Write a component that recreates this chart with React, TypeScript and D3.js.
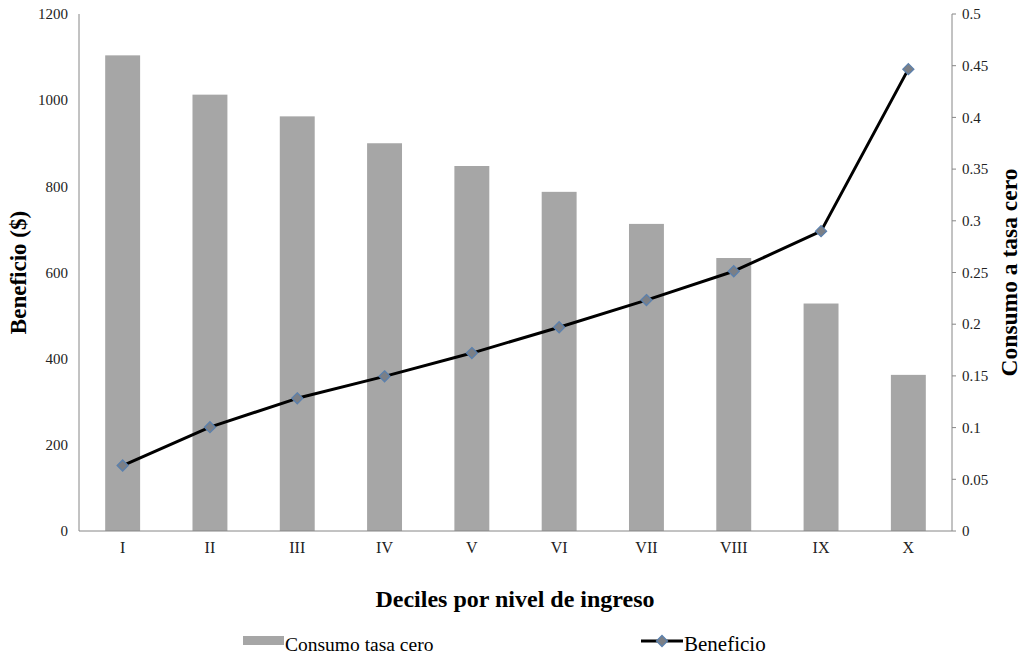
import React from 'react';
import * as d3 from 'd3';

const deciles = ['I', 'II', 'III', 'IV', 'V', 'VI', 'VII', 'VIII', 'IX', 'X'];
const consumoTasaCero = [0.46, 0.422, 0.401, 0.375, 0.353, 0.328, 0.297, 0.264, 0.22, 0.151];
const beneficio = [152, 241, 308, 359, 413, 473, 536, 603, 696, 1072];
const leftTicks = [0, 200, 400, 600, 800, 1000, 1200];
const rightTicks = [0, 0.05, 0.1, 0.15, 0.2, 0.25, 0.3, 0.35, 0.4, 0.45, 0.5];

const W = 1026;
const H = 655;
const margin = { top: 14, right: 74, bottom: 124, left: 79 };
const font = '"Liberation Serif", "DejaVu Serif", serif';
const axisColor = '#868686';

const App = () => {
  const x0 = margin.left;
  const x1 = W - margin.right;
  const y0 = H - margin.bottom;
  const y1 = margin.top;

  const x = d3.scaleBand<string>().domain(deciles).range([x0, x1]).paddingInner(0.6).paddingOuter(0.3);
  const band = d3.scaleBand<string>().domain(deciles).range([x0, x1]);
  const yLeft = d3.scaleLinear().domain([0, 1200]).range([y0, y1]);
  const yRight = d3.scaleLinear().domain([0, 0.5]).range([y0, y1]);

  const line = d3
    .line<number>()
    .x((_, i) => band(deciles[i])! + band.bandwidth() / 2)
    .y((d) => yLeft(d));

  const diamond = (cx: number, cy: number, r: number) =>
    `M${cx},${cy - r}L${cx + r},${cy}L${cx},${cy + r}L${cx - r},${cy}Z`;

  return (
    <svg
      width={W}
      height={H}
      style={{ position: 'absolute', left: 0, top: 0, background: '#fff' }}
      fontFamily={font}
    >
      {/* bars */}
      <g>
        {consumoTasaCero.map((v, i) => (
          <rect
            key={i}
            x={x(deciles[i])}
            y={yRight(v)}
            width={x.bandwidth()}
            height={y0 - yRight(v)}
            fill="#a6a6a6"
          />
        ))}
      </g>

      {/* axes */}
      <g stroke={axisColor} strokeWidth={1} fill="none">
        <line x1={x0} x2={x0} y1={y1} y2={y0} />
        <line x1={x1} x2={x1} y1={y1} y2={y0} />
        <line x1={x0} x2={x1} y1={y0} y2={y0} />
        {rightTicks.map((t) => (
          <line key={t} x1={x1} x2={x1 + 4} y1={yRight(t)} y2={yRight(t)} />
        ))}
      </g>

      <g fontSize={15} fill="#222">
        {leftTicks.map((t) => (
          <text key={t} x={x0 - 11} y={yLeft(t)} dy="0.35em" textAnchor="end">
            {t}
          </text>
        ))}
        {rightTicks.map((t) => (
          <text key={t} x={x1 + 10} y={yRight(t)} dy="0.35em" textAnchor="start">
            {t}
          </text>
        ))}
        {deciles.map((d) => (
          <text key={d} x={band(d)! + band.bandwidth() / 2} y={y0 + 22} textAnchor="middle" fontSize={16}>
            {d}
          </text>
        ))}
      </g>

      {/* line series */}
      <path d={line(beneficio)!} fill="none" stroke="#000" strokeWidth={3} strokeLinejoin="round" />
      {beneficio.map((v, i) => (
        <path
          key={i}
          d={diamond(band(deciles[i])! + band.bandwidth() / 2, yLeft(v), 5.5)}
          fill="#7b7f86"
          stroke="#5b80ad"
          strokeWidth={1.3}
        />
      ))}

      {/* titles */}
      <text
        transform={`translate(26,${(y0 + y1) / 2}) rotate(-90)`}
        textAnchor="middle"
        fontSize={23}
        fontWeight="bold"
      >
        Beneficio ($)
      </text>
      <text
        transform={`translate(1017,${(y0 + y1) / 2}) rotate(-90)`}
        textAnchor="middle"
        fontSize={23.5}
        fontWeight="bold"
      >
        Consumo a tasa cero
      </text>
      <text x={515} y={607} textAnchor="middle" fontSize={24} fontWeight="bold">
        Deciles por nivel de ingreso
      </text>

      {/* legend */}
      <rect x={243} y={636} width={41} height={9} fill="#a6a6a6" />
      <text x={285} y={651} fontSize={19.5}>
        Consumo tasa cero
      </text>
      <line x1={641} x2={683} y1={641} y2={641} stroke="#000" strokeWidth={3} />
      <path d={diamond(662, 641, 5.5)} fill="#7b7f86" stroke="#5b80ad" strokeWidth={1.3} />
      <text x={684} y={651} fontSize={21}>
        Beneficio
      </text>
    </svg>
  );
};

export default App;
